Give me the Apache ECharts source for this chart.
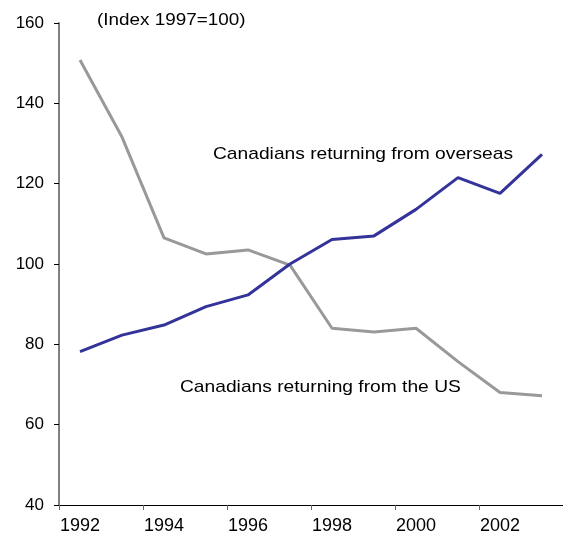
<!DOCTYPE html>
<html>
<head>
<meta charset="utf-8">
<script src="https://cdn.jsdelivr.net/npm/echarts@6/dist/echarts.min.js"></script>
<style>html,body{margin:0;padding:0;background:#fff}#c{width:563px;height:539px}</style>
</head>
<body>
<div id="c"></div>
<script>
const years = ['1992','1993','1994','1995','1996','1997','1998','1999','2000','2001','2002','2003'];
const overseas = [78.2, 82.3, 84.8, 89.4, 92.3, 100, 106.1, 107, 113.6, 121.5, 117.6, 127.3];
const fromUS = [150.8, 131.6, 106.5, 102.5, 103.5, 99.7, 84, 83.1, 84, 75.7, 68, 67.2];
const yTicks = {min: 40, max: 160, interval: 20};

const chart = echarts.init(document.getElementById('c'));
const font = 'Liberation Sans, Arial, sans-serif';
function label(text, x, y, sx) {
  return {type: 'text', x: x, y: y, scaleX: sx, originX: 0, originY: 0,
    style: {text: text, fontSize: 17, fontFamily: font, fill: '#000', verticalAlign: 'middle', align: 'left'}};
}
chart.setOption({
  animation: false,
  grid: {left: 59, right: 0, top: 23, bottom: 34},
  xAxis: {
    type: 'category',
    data: years,
    boundaryGap: true,
    axisLine: {lineStyle: {color: '#000', width: 1}},
    axisTick: {show: true, interval: 1, length: 5, lineStyle: {color: '#666'}},
    axisLabel: {interval: 1, margin: 12, color: '#000', fontSize: 18, fontFamily: font},
    splitLine: {show: false}
  },
  yAxis: {
    type: 'value',
    min: yTicks.min, max: yTicks.max, interval: yTicks.interval,
    axisLine: {show: true, lineStyle: {color: '#808080', width: 2}},
    axisTick: {show: true, length: 5, lineStyle: {color: '#000'}},
    axisLabel: {margin: 15, color: '#000', fontSize: 17, fontFamily: font},
    splitLine: {show: false}
  },
  series: [
    {name: 'overseas', type: 'line', data: overseas, symbol: 'none',
     lineStyle: {color: '#333399', width: 3}, z: 3},
    {name: 'US', type: 'line', data: fromUS, symbol: 'none',
     lineStyle: {color: '#999999', width: 3}, z: 2}
  ],
  graphic: [
    label('(Index 1997=100)', 97, 20, 1.11),
    label('Canadians returning from overseas', 213, 154, 1.13),
    label('Canadians returning from the US', 180, 387, 1.13)
  ]
});
</script>
</body>
</html>
